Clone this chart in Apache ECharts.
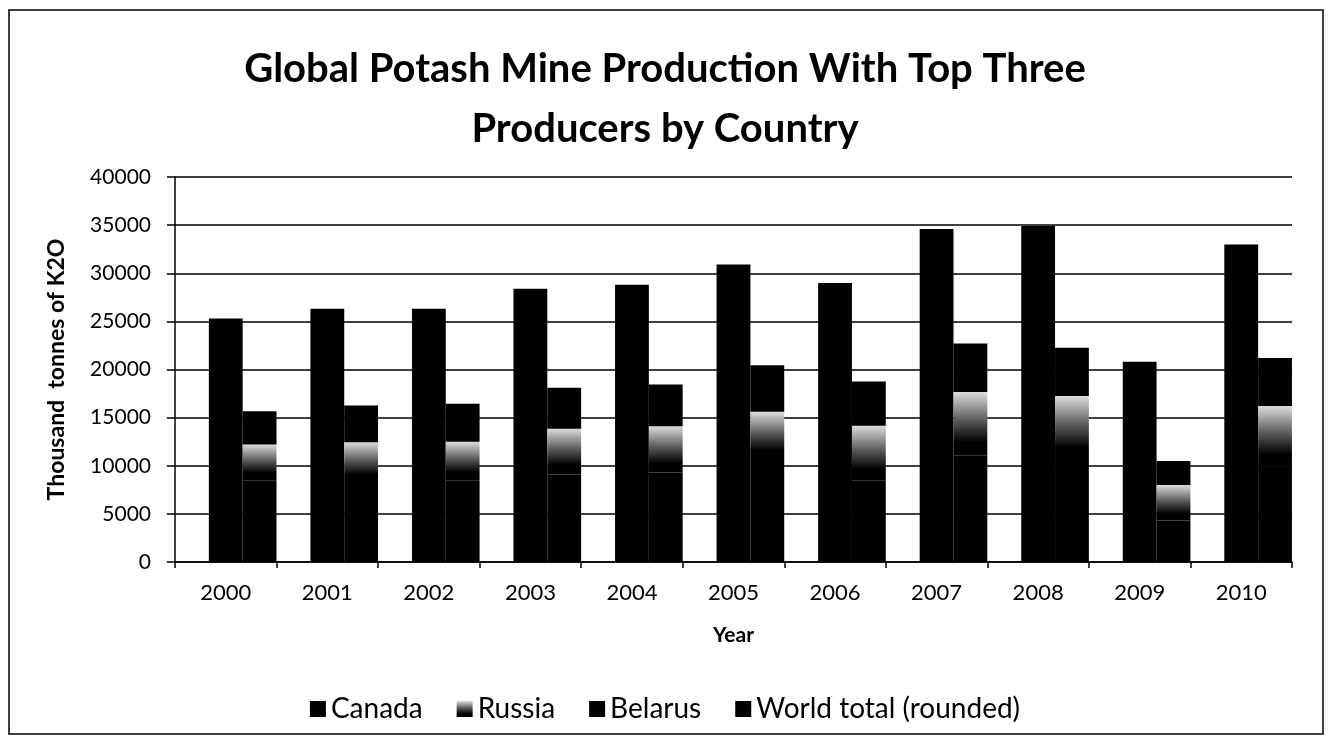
<!DOCTYPE html>
<html>
<head>
<meta charset="utf-8">
<script src="https://cdn.jsdelivr.net/npm/echarts@6/dist/echarts.min.js"></script>
<style>
html,body{margin:0;padding:0;background:#fff;}
#chart{width:1330px;height:746px;}
</style>
</head>
<body>
<div id="chart"></div>
<script>
const years = ['2000','2001','2002','2003','2004','2005','2006','2007','2008','2009','2010'];
const canada = [8500, 8200, 8500, 9100, 9300, 10600, 8500, 11100, 10500, 4300, 9900];
const russia = [3700, 4250, 4000, 4750, 4800, 5000, 5650, 6550, 6750, 3700, 6300];
const belarus = [3450, 3800, 3950, 4250, 4350, 4850, 4600, 5050, 5000, 2500, 5000];
const worldTotal = [25300, 26300, 26300, 28400, 28800, 30900, 29000, 34600, 34900, 20800, 33000];
const yTicks = { min: 0, max: 40000, interval: 5000 };

const FONT = 'Lato';
const chart = echarts.init(document.getElementById('chart'));
const russiaFill = new echarts.graphic.LinearGradient(0, 0, 0, 1, [
  { offset: 0, color: '#dcdcdc' },
  { offset: 0.45, color: '#5a5a5a' },
  { offset: 0.8, color: '#000000' },
  { offset: 1, color: '#000000' }
]);

chart.setOption({
  backgroundColor: '#fff',
  animation: false,
  title: {
    text: 'Global Potash Mine Production With Top Three\nProducers by Country',
    left: 'center',
    top: 34,
    textStyle: { fontFamily: FONT, fontSize: 40, fontWeight: 'bold', color: '#000', lineHeight: 60 }
  },
  graphic: [{
    type: 'rect',
    shape: { x: 9, y: 10, width: 1314, height: 724 },
    style: { fill: 'none', stroke: '#000', lineWidth: 1.5 },
    silent: true
  }],
  legend: {
    data: ['Canada', 'Russia', 'Belarus', 'World total (rounded)'],
    top: 690,
    left: 'center',
    icon: 'rect',
    itemWidth: 16,
    itemHeight: 16,
    itemGap: 34,
    textStyle: { fontFamily: FONT, fontSize: 28, color: '#000' }
  },
  grid: { left: 175, right: 38, top: 177, bottom: 184 },
  xAxis: {
    type: 'category',
    data: years,
    name: 'Year',
    nameLocation: 'middle',
    nameGap: 63,
    nameTextStyle: { fontFamily: FONT, fontSize: 21, fontWeight: 'bold', color: '#000' },
    axisLine: { lineStyle: { color: '#000', width: 1.5 } },
    axisTick: { show: true, length: 6, lineStyle: { color: '#000', width: 1.5 } },
    axisLabel: { fontFamily: FONT, fontSize: 22, color: '#000', margin: 20 }
  },
  yAxis: {
    type: 'value',
    min: yTicks.min,
    max: yTicks.max,
    interval: yTicks.interval,
    name: 'Thousand  tonnes of K2O',
    nameLocation: 'middle',
    nameGap: 107,
    nameTextStyle: { fontFamily: FONT, fontSize: 23, fontWeight: 'bold', color: '#000' },
    axisLine: { show: true, lineStyle: { color: '#000', width: 1.5 } },
    axisTick: { show: true, length: 8, lineStyle: { color: '#000', width: 1.5 } },
    axisLabel: { fontFamily: FONT, fontSize: 21, color: '#000', margin: 24, formatter: (v) => String(v) },
    splitLine: { show: true, lineStyle: { color: '#000', width: 1.5 } }
  },
  series: [
    { name: 'pad', type: 'bar', data: years.map(() => null), barWidth: '33.3%', barGap: '0%', barCategoryGap: '0%', silent: true },
    { name: 'World total (rounded)', type: 'bar', data: worldTotal, barWidth: '33.3%', barGap: '0%', itemStyle: { color: '#000' } },
    { name: 'Canada', type: 'bar', stack: 'top3', data: canada, barWidth: '33.3%', barGap: '0%', itemStyle: { color: '#000' } },
    { name: 'Russia', type: 'bar', stack: 'top3', data: russia, barWidth: '33.3%', barGap: '0%', itemStyle: { color: russiaFill } },
    { name: 'Belarus', type: 'bar', stack: 'top3', data: belarus, barWidth: '33.3%', barGap: '0%', itemStyle: { color: '#000' } }
  ]
});
</script>
</body>
</html>
